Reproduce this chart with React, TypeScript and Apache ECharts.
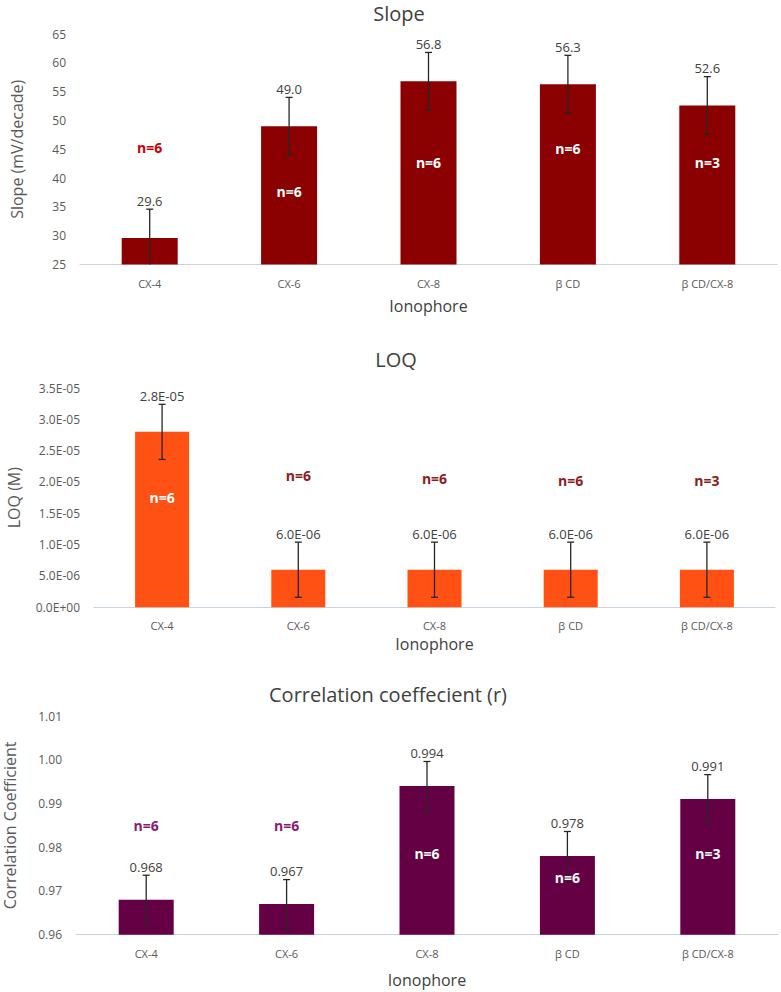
import React, { useEffect, useRef } from "react";
import * as echarts from "echarts";

// ---------- data ----------
const categories = ["CX-4", "CX-6", "CX-8", "β CD", "β CD/CX-8"];
const nCounts = [6, 6, 6, 6, 3];

const slopeValues = [29.6, 49.0, 56.8, 56.3, 52.6];
const slopeErrors = [5.0, 5.0, 5.0, 5.0, 5.0];
const slopeNLabelAt = [45.3, 37.7, 42.7, 45.2, 42.7];
const slopeAxisRange = [25, 65, 5];

const loqValues = [2.8e-5, 6.0e-6, 6.0e-6, 6.0e-6, 6.0e-6];
const loqErrors = [4.4e-6, 4.4e-6, 4.4e-6, 4.4e-6, 4.4e-6];
const loqNLabelAt = [1.75e-5, 2.1e-5, 2.05e-5, 2.02e-5, 2.02e-5];
const loqAxisRange = [0, 3.5e-5, 5e-6];

const corrValues = [0.968, 0.967, 0.994, 0.978, 0.991];
const corrErrors = [0.0056, 0.0056, 0.0056, 0.0056, 0.0056];
const corrNLabelAt = [0.9849, 0.9849, 0.9786, 0.9731, 0.9786];
const corrAxisRange = [0.96, 1.01, 0.01];

// ---------- helpers ----------
function sciLabel(v: number): string {
  if (v === 0) return "0.0E+00";
  const exp = Math.floor(Math.log10(Math.abs(v)) + 1e-9);
  const mant = v / Math.pow(10, exp);
  const e = Math.abs(exp);
  return mant.toFixed(1) + "E" + (exp < 0 ? "-" : "+") + (e < 10 ? "0" + e : String(e));
}

const FONT = "'Open Sans', 'Noto Sans', sans-serif";

const panels = [
  {
    title: "Slope",
    yName: "Slope (mV/decade)",
    values: slopeValues,
    errors: slopeErrors,
    nAt: slopeNLabelAt,
    range: slopeAxisRange,
    axisFmt: (v: number) => String(Math.round(v)),
    valFmt: (v: number) => v.toFixed(1),
    color: "#8B0000",
    nColor: "#D00000",
    grid: { left: 80, top: 34, width: 697, height: 230.5 },
    titleX: 399,
    titleY: 13,
    yNameGap: 55,
    xNameGap: 33,
    barWidth: 56,
  },
  {
    title: "LOQ",
    yName: "LOQ (M)",
    values: loqValues,
    errors: loqErrors,
    nAt: loqNLabelAt,
    range: loqAxisRange,
    axisFmt: (v: number) => sciLabel(v),
    valFmt: (v: number) => sciLabel(v),
    color: "#FF5113",
    nColor: "#8B1E1E",
    grid: { left: 94, top: 388, width: 681, height: 219.3 },
    titleX: 396,
    titleY: 359,
    yNameGap: 72,
    xNameGap: 29,
    barWidth: 54,
  },
  {
    title: "Correlation coeffecient (r)",
    yName: "Correlation Coefficient",
    values: corrValues,
    errors: corrErrors,
    nAt: corrNLabelAt,
    range: corrAxisRange,
    axisFmt: (v: number) => v.toFixed(2),
    valFmt: (v: number) => v.toFixed(3),
    color: "#650045",
    nColor: "#8A1A72",
    grid: { left: 76, top: 716, width: 702, height: 218.7 },
    titleX: 388,
    titleY: 694,
    yNameGap: 58,
    xNameGap: 37,
    barWidth: 55,
  },
];

function buildOption() {
  const title: any[] = [];
  const grid: any[] = [];
  const xAxis: any[] = [];
  const yAxis: any[] = [];
  const series: any[] = [];

  panels.forEach((p, i) => {
    title.push({
      text: p.title,
      left: p.titleX,
      top: p.titleY,
      textAlign: "center",
      textVerticalAlign: "middle",
      padding: 0,
      textStyle: { fontFamily: FONT, fontSize: 20, fontWeight: "normal", color: "#404040" },
    });
    grid.push({ ...p.grid, containLabel: false, outerBoundsMode: "none" });
    xAxis.push({
      type: "category",
      gridIndex: i,
      data: categories,
      axisLine: { lineStyle: { color: "#C9D3DC", width: 1 } },
      axisTick: { show: false },
      axisLabel: { color: "#595959", fontSize: 11, margin: 13, fontFamily: FONT },
      name: "Ionophore",
      nameLocation: "middle",
      nameGap: p.xNameGap,
      nameTextStyle: { color: "#404040", fontSize: 16, fontFamily: FONT },
    });
    yAxis.push({
      type: "value",
      gridIndex: i,
      min: p.range[0],
      max: p.range[1],
      interval: p.range[2],
      splitLine: { show: false },
      axisLine: { show: false },
      axisTick: { show: false },
      axisLabel: {
        formatter: p.axisFmt,
        color: "#595959",
        fontSize: 12,
        margin: 14,
        fontFamily: FONT,
      },
      name: p.yName,
      nameLocation: "middle",
      nameGap: p.yNameGap,
      nameTextStyle: { color: "#595959", fontSize: 16, fontFamily: FONT },
    });

    series.push({
      type: "bar",
      xAxisIndex: i,
      yAxisIndex: i,
      data: p.values,
      barWidth: p.barWidth,
      itemStyle: { color: p.color },
      silent: true,
    });

    series.push({
      type: "custom",
      xAxisIndex: i,
      yAxisIndex: i,
      data: p.values.map((v, j) => [j, v - p.errors[j], v + p.errors[j]]),
      encode: { x: 0, y: [1, 2] },
      renderItem: (params: any, api: any) => {
        const idx = api.value(0);
        const top = api.coord([idx, api.value(2)]);
        const bot = api.coord([idx, api.value(1)]);
        const cs = params.coordSys;
        const bottomEdge = cs.y + cs.height;
        const clamped = bot[1] > bottomEdge;
        const by = clamped ? bottomEdge : bot[1];
        const h = 3.5;
        const ls = { stroke: "#262626", lineWidth: 1.3 };
        const children: any[] = [
          { type: "line", shape: { x1: top[0], y1: top[1], x2: top[0], y2: by }, style: ls },
          { type: "line", shape: { x1: top[0] - h, y1: top[1], x2: top[0] + h, y2: top[1] }, style: ls },
        ];
        if (!clamped) {
          children.push({ type: "line", shape: { x1: bot[0] - h, y1: bot[1], x2: bot[0] + h, y2: bot[1] }, style: ls });
        }
        children.push({
          type: "text",
          x: top[0],
          y: top[1] - 2,
          style: {
            text: p.valFmt(p.values[params.dataIndex]),
            textAlign: "center",
            textVerticalAlign: "bottom",
            fontSize: 13,
            fontFamily: FONT,
            fill: "#404040",
          },
        });
        return { type: "group", children };
      },
      silent: true,
      z: 3,
    });

    series.push({
      type: "custom",
      xAxisIndex: i,
      yAxisIndex: i,
      data: p.nAt.map((y, j) => [j, y]),
      encode: { x: 0, y: 1 },
      renderItem: (params: any, api: any) => {
        const j = params.dataIndex;
        const pt = api.coord([api.value(0), api.value(1)]);
        const inside = p.nAt[j] < p.values[j];
        return {
          type: "text",
          x: pt[0],
          y: pt[1],
          style: {
            text: "n=" + nCounts[j],
            textAlign: "center",
            textVerticalAlign: "middle",
            fontSize: 14,
            fontWeight: "bold",
            fontFamily: FONT,
            fill: inside ? "#FFFFFF" : p.nColor,
          },
        };
      },
      silent: true,
      z: 4,
    });
  });

  return {
    animation: false,
    backgroundColor: "#FFFFFF",
    title,
    grid,
    xAxis,
    yAxis,
    series,
  };
}

export default function App() {
  const ref = useRef<HTMLDivElement>(null);
  useEffect(() => {
    document.body.style.margin = "0";
    if (!ref.current) return;
    const chart = echarts.init(ref.current, null, { renderer: "svg", width: 781, height: 992 });
    chart.setOption(buildOption() as any);
    return () => {
      chart.dispose();
    };
  }, []);
  return <div ref={ref} style={{ width: 781, height: 992 }} />;
}
